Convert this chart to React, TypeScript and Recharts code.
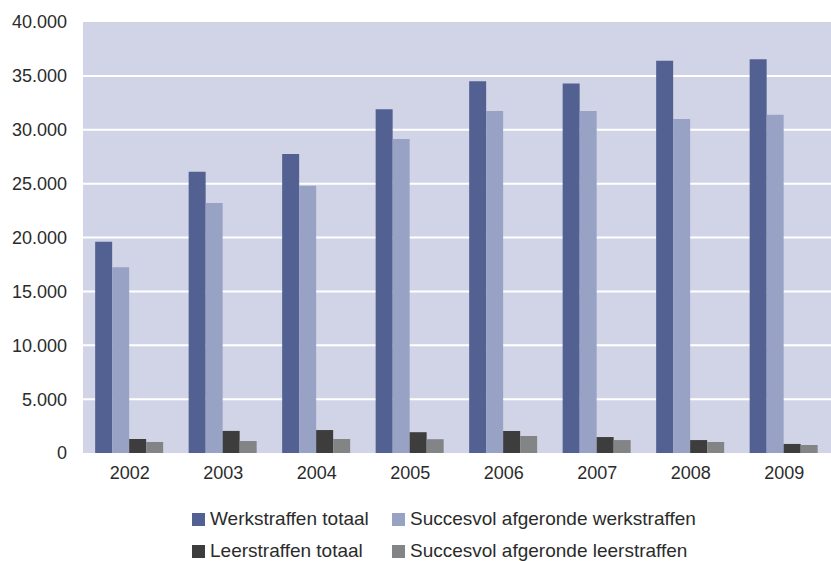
import { BarChart, Bar, XAxis, YAxis, CartesianGrid, Legend } from 'recharts'

const years = ['2002', '2003', '2004', '2005', '2006', '2007', '2008', '2009']
const werkTotaal = [19600, 26100, 27750, 31900, 34500, 34300, 36400, 36550]
const werkSucces = [17250, 23200, 24800, 29150, 31750, 31750, 31000, 31400]
const leerTotaal = [1300, 2050, 2130, 1930, 2040, 1480, 1200, 840]
const leerSucces = [1020, 1110, 1300, 1280, 1580, 1200, 1020, 740]
const yTicks = [0, 5000, 10000, 15000, 20000, 25000, 30000, 35000, 40000]

const series = [
  { key: 'werkTotaal', name: 'Werkstraffen totaal', color: '#536192' },
  { key: 'werkSucces', name: 'Succesvol afgeronde werkstraffen', color: '#98a2c4' },
  { key: 'leerTotaal', name: 'Leerstraffen totaal', color: '#3d3d3d' },
  { key: 'leerSucces', name: 'Succesvol afgeronde leerstraffen', color: '#838486' },
]

const data = years.map((y, i) => ({
  year: y,
  werkTotaal: werkTotaal[i],
  werkSucces: werkSucces[i],
  leerTotaal: leerTotaal[i],
  leerSucces: leerSucces[i],
}))

const fmt = (v: number) => v.toLocaleString('de-DE')

function LegendBox() {
  const cols = [192, 392]
  const rows = [16, 48]
  return (
    <div style={{ position: 'relative', width: 831, height: 68 }}>
      {series.map((s, i) => (
        <div
          key={s.key}
          style={{
            position: 'absolute',
            left: cols[i % 2],
            top: rows[Math.floor(i / 2)],
            display: 'flex',
            alignItems: 'center',
            fontSize: 19,
            lineHeight: '20px',
            color: '#2b2b2b',
            whiteSpace: 'nowrap',
          }}
        >
          <span style={{ display: 'inline-block', width: 13, height: 13, background: s.color, marginRight: 5 }} />
          {s.name}
        </div>
      ))}
    </div>
  )
}

export default function App() {
  return (
    <div style={{ position: 'absolute', left: 0, top: 0, fontFamily: '"Liberation Sans", Arial, sans-serif' }}>
      <BarChart
        width={831}
        height={561}
        data={data}
        margin={{ top: 22, right: 0, left: 0, bottom: 0 }}
        barCategoryGap="13%"
        barGap={0}
      >
        <CartesianGrid
          vertical={false}
          stroke="#ffffff"
          strokeWidth={2}
          fill="#d1d4e6"
          horizontalValues={[5000, 10000, 15000, 20000, 25000, 30000, 35000]}
        />
        <XAxis
          dataKey="year"
          axisLine={false}
          tickLine={false}
          tickSize={0}
          tickMargin={13}
          height={40}
          tick={{ fontSize: 18, fill: '#2b2b2b' }}
        />
        <YAxis
          domain={[0, 40000]}
          ticks={yTicks}
          tickFormatter={fmt}
          axisLine={false}
          tickLine={false}
          tickSize={0}
          tickMargin={16}
          width={83}
          tick={{ fontSize: 18, fill: '#2b2b2b' }}
        />
        <Legend
          verticalAlign="bottom"
          height={68}
          content={() => <LegendBox />}
          wrapperStyle={{ left: 0, bottom: 0, width: 831, height: 68 }}
        />
        {series.map((s) => (
          <Bar key={s.key} dataKey={s.key} name={s.name} fill={s.color} isAnimationActive={false} />
        ))}
      </BarChart>
    </div>
  )
}
